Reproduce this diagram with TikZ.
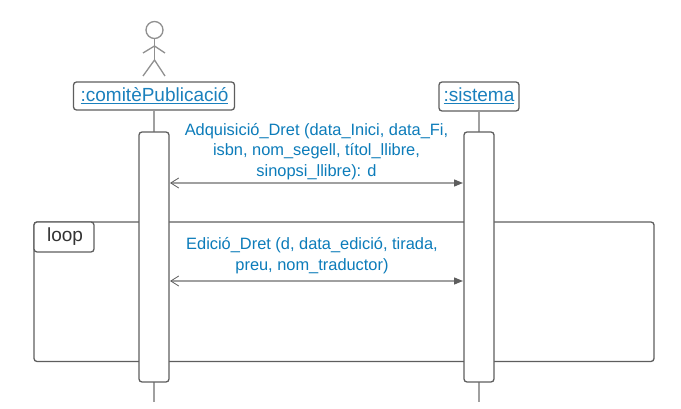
\documentclass[tikz,border=0pt]{standalone}
\usepackage{fontspec}
\setmainfont{Liberation Sans}
\usetikzlibrary{arrows.meta}
\definecolor{edgegray}{HTML}{5E5E5E}
\definecolor{linegray}{HTML}{A0A0A0}
\definecolor{msgblue}{HTML}{0C7CBA}
\definecolor{headblue}{HTML}{1A80BD}
\tikzset{
  x=1pt,y=-1pt,
  headbox/.style={draw=edgegray,line width=1.3pt,rounded corners=3pt,fill=white,inner sep=0pt,
    text=headblue,font=\fontsize{19}{22}\selectfont,anchor=center},
  activation/.style={draw=edgegray,line width=1.3pt,rounded corners=3pt,fill=white},
  lifeline/.style={draw=linegray,line width=1.3pt},
  message/.style={draw=linegray,line width=1.3pt,
    {Straight Barb[length=8pt,width=10pt,line width=0.8pt,color=edgegray]}-{Triangle[length=9pt,width=7pt,color=edgegray]}},
  msgtext/.style={text=msgblue,font=\fontsize{16.4}{20.7}\selectfont,align=center,inner sep=0pt},
  stick/.style={draw=linegray!90!black,line width=1.3pt},
}
\begin{document}
\begin{tikzpicture}
\useasboundingbox (0,0) rectangle (681,409);
\fill[white] (0,0) rectangle (681,409);
% lifelines
\coordinate (lA) at (154,402);
\coordinate (lB) at (479,402);
\node[headbox,minimum width=161pt,minimum height=28pt] (comite) at (154,96) {};
\node[headbox,minimum width=80pt,minimum height=29pt] (sistema) at (479,96.5) {};
\draw[lifeline] (comite.south) -- (lA);
\draw[lifeline] (sistema.south) -- (lB);
% loop frame
\draw[draw=edgegray,line width=1.3pt,rounded corners=3pt] (34,222) rectangle (654,361.5);
\node[draw=edgegray,line width=1.3pt,rounded corners=3pt,fill=white,minimum width=60pt,minimum height=30pt,inner sep=0pt,
  text=black!80,font=\fontsize{19}{22}\selectfont] (loop) at (64,237) {\kern2pt loop};
% activations
\node[activation,minimum width=30pt,minimum height=250pt,inner sep=0pt] (actA) at (154,257) {};
\node[activation,minimum width=30pt,minimum height=250pt,inner sep=0pt] (actB) at (479,257) {};
% head labels
\node[text=headblue,font=\fontsize{19}{22}\selectfont,inner sep=0pt] (comiteT) at (154.5,95.5) {\underline{:comitèPublicació}};
\node[text=headblue,font=\fontsize{19}{22}\selectfont,inner sep=0pt] (sistemaT) at (479,95.5) {\underline{:sistema}};
% actor
\node[circle,stick,minimum size=17pt,inner sep=0pt] (head) at (154.5,30) {};
\coordinate (neck) at (154.5,60);
\coordinate (armL) at (143,53);
\coordinate (armR) at (165,53);
\coordinate (armC) at (154.5,46);
\coordinate (legL) at (143,76);
\coordinate (legR) at (165,76);
\draw[stick] (head.south) -- (neck);
\draw[stick] (armL) -- (armC) -- (armR);
\draw[stick] (legL) -- (neck) -- (legR);
% messages
\coordinate (m1a) at (170,183);
\coordinate (m1b) at (463,183);
\coordinate (m2a) at (170,281);
\coordinate (m2b) at (463,281);
\draw[message] (m1a) -- (m1b);
\draw[message] (m2a) -- (m2b);
\node[msgtext] (t1) at (316.5,151.5) {Adquisició\_Dret (data\_Inici, data\_Fi,\\isbn, nom\_segell, títol\_llibre,\\sinopsi\_llibre): d};
\node[msgtext] (t2) at (312,256) {Edició\_Dret (d, data\_edició, tirada,\\preu, nom\_traductor)};
\end{tikzpicture}
\end{document}
